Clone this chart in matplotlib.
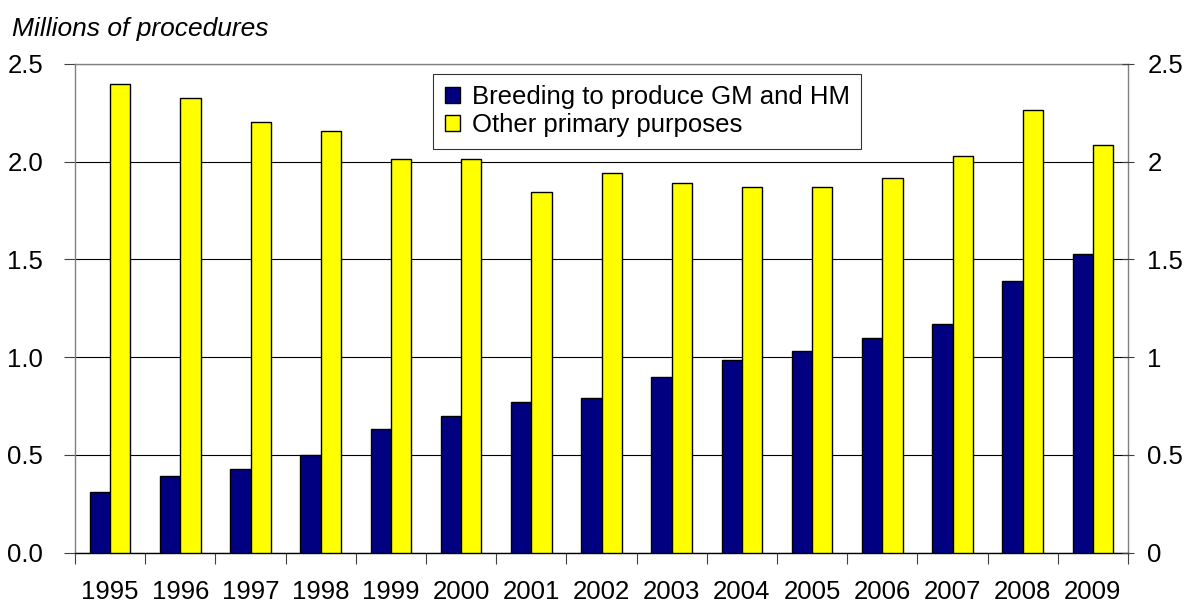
import numpy as np
import matplotlib
matplotlib.use("Agg")
import matplotlib.pyplot as plt
from matplotlib.ticker import FixedLocator, FormatStrFormatter

# Data (millions of procedures)
years = ['1995', '1996', '1997', '1998', '1999', '2000', '2001', '2002',
         '2003', '2004', '2005', '2006', '2007', '2008', '2009']
breeding_gm_hm = [0.31, 0.39, 0.43, 0.50, 0.635, 0.70, 0.77, 0.79,
                  0.90, 0.985, 1.03, 1.10, 1.17, 1.39, 1.53]
other_purposes = [2.40, 2.325, 2.205, 2.155, 2.015, 2.015, 1.845, 1.94,
                  1.89, 1.87, 1.87, 1.915, 2.03, 2.265, 2.085]

series_names = ['Breeding to produce GM and HM', 'Other primary purposes']

plt.rcParams['font.family'] = ['Liberation Sans', 'DejaVu Sans']

fig = plt.figure(figsize=(11.89, 6.03), dpi=100)
ax = fig.add_axes([0.0631, 0.0835, 0.8856, 0.8104])

x = np.arange(len(years))
bar_w = 0.29
ax.bar(x - bar_w / 2, breeding_gm_hm, width=bar_w, color='#000080',
       edgecolor='black', linewidth=1.0, label=series_names[0], zorder=3)
ax.bar(x + bar_w / 2, other_purposes, width=bar_w, color='#FFFF00',
       edgecolor='black', linewidth=1.0, label=series_names[1], zorder=3)

# Axis limits and grid
ax.set_xlim(-0.5, len(years) - 0.5)
ax.set_ylim(0, 2.5)
yticks = [0, 0.5, 1.0, 1.5, 2.0, 2.5]
ax.set_yticks(yticks)
ax.yaxis.set_major_formatter(FormatStrFormatter('%.1f'))
ax.grid(axis='y', color='black', linewidth=0.8, zorder=0)

# X ticks: labels at centres, tick marks on category boundaries
ax.set_xticks(x)
ax.set_xticklabels(years)
ax.xaxis.set_minor_locator(FixedLocator(np.arange(-0.5, len(years), 1.0)))
ax.tick_params(axis='x', which='major', length=0, pad=19.5, labelsize=18.5)
ax.tick_params(axis='x', which='minor', length=8, width=0.8,
               color='#404040', direction='out')
ax.tick_params(axis='y', length=8, width=0.8, color='#404040',
               direction='out', pad=15, labelsize=18.5)

for side in ['left', 'right', 'top', 'bottom']:
    ax.spines[side].set_color('#808080')
    ax.spines[side].set_linewidth(1.0)
ax.spines['bottom'].set_color('black')

# Secondary axis on the right with general number format
ax2 = ax.twinx()
ax2.set_ylim(0, 2.5)
ax2.set_yticks(yticks)
ax2.set_yticklabels(['0', '0.5', '1', '1.5', '2', '2.5'])
ax2.tick_params(axis='y', length=8, width=0.8, color='#404040',
                direction='inout', pad=10, labelsize=18.5)
for side in ['left', 'right', 'top', 'bottom']:
    ax2.spines[side].set_visible(False)

leg = ax.legend(loc='upper left', bbox_to_anchor=(0.340, 0.980),
                borderaxespad=0, fontsize=18.5, frameon=True, fancybox=False,
                edgecolor='black', handlelength=0.6, handleheight=0.6,
                handletextpad=0.45, labelspacing=0.15, borderpad=0.45)
leg.get_frame().set_linewidth(0.8)

fig.text(0.01, 1 - 36 / 603, 'Millions of procedures', fontsize=19,
         style='italic', va='baseline', ha='left')

fig.savefig('out.png', dpi=100)
